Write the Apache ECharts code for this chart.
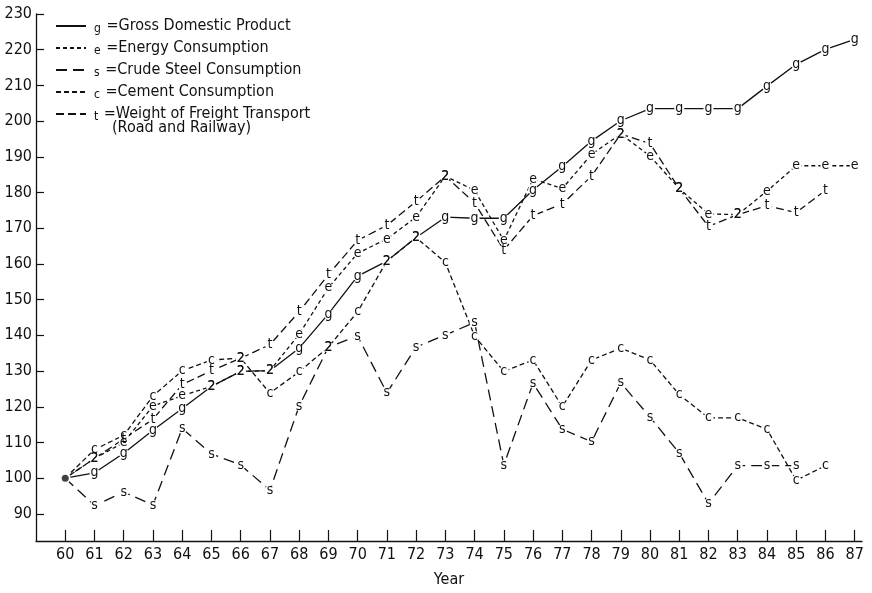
<!DOCTYPE html>
<html>
<head>
<meta charset="utf-8">
<script src="https://cdn.jsdelivr.net/npm/echarts@6/dist/echarts.min.js"></script>
<style>
html,body{margin:0;padding:0;background:#fff;}
#chart{width:872px;height:593px;}
</style>
</head>
<body>
<div id="chart"></div>
<script>
// ---- data (index = 1960, 1961, ...) ----
var years = [60,61,62,63,64,65,66,67,68,69,70,71,72,73,74,75,76,77,78,79,80,81,82,83,84,85,86,87];
var yTicks = [90,100,110,120,130,140,150,160,170,180,190,200,210,220,230];
var gdp = [100,101.5,107,113.4,119.5,125.7,129.9,130.1,136.4,146,156.6,160.8,167.4,173.1,172.8,172.8,180.7,187.3,194.4,200.1,203.5,203.5,203.5,203.5,209.8,215.9,220.1,222.9];
var energy = [100,105.5,110,120.2,123.1,125.7,129.9,130.1,140.3,153.3,163,167,173.1,184.6,180.6,166.6,183.8,181.1,190.7,196.4,190.2,181.1,174,173.8,180.4,187.5,187.5,187.5];
var steel = [100,92.3,96.1,92.5,113.9,106.8,103.7,96.6,120.2,136.7,139.8,123.9,136.7,140.1,143.6,103.7,126.6,113.7,110.2,126.7,117.1,107,92.9,103.5,103.5,103.5];
var cement = [100,108,112,123,130.1,133.1,133.6,123.8,129.8,136.7,146.6,160.8,167.4,160.4,139.8,129.9,133.1,120,133.1,136.4,133.1,123.4,116.9,116.9,113.7,99.4,103.5];
var freight = [100,105.5,111,116.5,126.2,130.1,133.6,137.4,146.6,157,166.6,170.8,177.5,184.6,177.1,163.9,173.5,176.8,184.6,196.4,193.7,181.1,170.5,173.8,176.3,174.4,180.6];

var seriesDefs = [
  {key:'g', name:'Gross Domestic Product', values:gdp, dash:'solid'},
  {key:'e', name:'Energy Consumption', values:energy, dash:[4,3]},
  {key:'s', name:'Crude Steel Consumption', values:steel, dash:[11,6]},
  {key:'c', name:'Cement Consumption', values:cement, dash:[5,3]},
  {key:'t', name:'Weight of Freight Transport', values:freight, dash:[8,4]}
];

var FONT = "'DejaVu Sans Condensed','DejaVu Sans',sans-serif";
var INK = '#111';

function labelFor(si, idx) {
  if (idx === 0) return '';
  var v = seriesDefs[si].values[idx];
  for (var k = 0; k < seriesDefs.length; k++) {
    if (k === si) continue;
    var o = seriesDefs[k].values[idx];
    if (o !== undefined && Math.abs(o - v) < 0.5) return '2';
  }
  return seriesDefs[si].key;
}

var series = seriesDefs.map(function (d, si) {
  return {
    type: 'line',
    name: d.name,
    data: d.values.map(function (v, i) { return [years[i], v]; }),
    symbol: 'circle',
    symbolSize: 10,
    showSymbol: true,
    itemStyle: {color: '#fff', borderWidth: 0},
    lineStyle: {color: INK, width: 1.3, type: d.dash},
    label: {
      show: true,
      position: 'inside',
      fontFamily: FONT,
      fontSize: 14,
      color: INK,
      formatter: function (p) { return labelFor(si, p.dataIndex); }
    },
    emphasis: {disabled: true},
    animation: false,
    z: 2
  };
});
series.push({
  type: 'scatter',
  name: 'start',
  data: [[years[0], gdp[0]]],
  symbol: 'circle',
  symbolSize: 7,
  itemStyle: {color: INK},
  animation: false,
  z: 5
});

var keyOf = {};
seriesDefs.forEach(function (d) { keyOf[d.name] = d.key; });

var chart = echarts.init(document.getElementById('chart'), null, {renderer: 'canvas'});
chart.setOption({
  backgroundColor: '#fff',
  animation: false,
  grid: {left: 36, right: 10, top: 14, bottom: 43},
  legend: {
    orient: 'vertical',
    left: 50,
    top: 13,
    itemGap: 5.5,
    itemWidth: 30,
    itemHeight: 16,
    data: seriesDefs.map(function (d) { return d.name; }),
    itemStyle: {opacity: 0},
    textStyle: {
      fontFamily: FONT, fontSize: 16, color: INK,
      rich: {k: {fontFamily: FONT, fontSize: 12, color: INK, padding: [5, 1, 0, 3]}}
    },
    formatter: function (name) { return '{k|' + keyOf[name] + '} =' + name; },
    selectedMode: false
  },
  graphic: [{
    type: 'text',
    left: 112,
    top: 120,
    style: {text: '(Road and Railway)', fontFamily: FONT, fontSize: 16, fill: INK}
  }],
  xAxis: {
    type: 'value',
    min: 59,
    max: 87.25,
    name: 'Year',
    nameLocation: 'middle',
    nameGap: 31,
    nameTextStyle: {fontFamily: FONT, fontSize: 16, color: INK},
    axisLine: {show: true, lineStyle: {color: INK, width: 1.3}},
    axisTick: {show: true, inside: true, length: 11, customValues: years, lineStyle: {color: INK, width: 1.2}},
    axisLabel: {customValues: years, fontFamily: FONT, fontSize: 16, color: INK, margin: 6},
    splitLine: {show: false}
  },
  yAxis: {
    type: 'value',
    min: 82.4,
    max: 230,
    axisLine: {show: true, lineStyle: {color: INK, width: 1.3}},
    axisTick: {show: true, inside: true, length: 8, customValues: yTicks, lineStyle: {color: INK, width: 1.2}},
    axisLabel: {customValues: yTicks, fontFamily: FONT, fontSize: 16, color: INK, margin: 4},
    splitLine: {show: false}
  },
  series: series
});
</script>
</body>
</html>
